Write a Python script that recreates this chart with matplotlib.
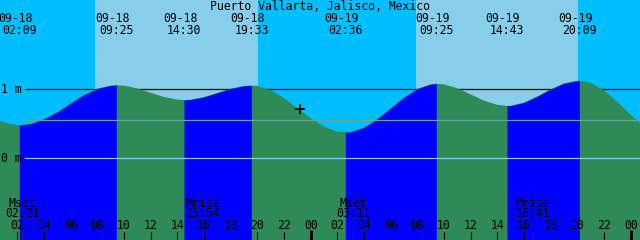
import matplotlib.pyplot as plt
import matplotlib.transforms as mtransforms
import numpy as np

title = 'Puerto Vallarta, Jalisco, Mexico'

# tide height (m), hours counted from 09-18 00:00
hours = [0, 1, 2, 2.15, 3, 4, 5, 6, 7, 8, 9, 9.42, 10, 11, 12, 13, 14, 14.5,
         15, 16, 17, 18, 19, 19.55, 20, 21, 22, 23, 24, 25, 26, 26.6, 27, 28,
         29, 30, 31, 32, 33, 33.42, 34, 35, 36, 37, 38, 38.72, 39, 40, 41, 42,
         43, 44, 44.15, 45, 46, 47, 48, 49]
level = [0.61, 0.52, 0.48, 0.48, 0.50, 0.57, 0.67, 0.80, 0.92, 1.01, 1.055, 1.06,
         1.053, 1.013, 0.95, 0.888, 0.85, 0.845,
         0.85, 0.888, 0.948, 1.01, 1.049, 1.055, 1.048, 0.987, 0.872, 0.727,
         0.579, 0.459, 0.389, 0.377, 0.383, 0.447,
         0.57, 0.727, 0.883, 1.007, 1.073, 1.08, 1.071, 1.015, 0.926, 0.836,
         0.774, 0.76, 0.762, 0.808, 0.897, 1.001,
         1.086, 1.124, 1.125, 1.094, 0.985, 0.82, 0.632, 0.462]

tide_days = ['09-18', '09-18', '09-18', '09-18', '09-19', '09-19', '09-19', '09-19']
tide_times = ['02:09', '09:25', '14:30', '19:33', '02:36', '09:25', '14:43', '20:09']

moon_names = ['Mset', 'Mrise', 'Mset', 'Mrise']
moon_days = ['09-18', '09-18', '09-19', '09-19']
moon_times = ['02:21', '15:54', '03:11', '16:41']

sun_days = ['09-18', '09-19']
sunrise = ['07:50', '07:54']
sunset = ['20:02', '20:02']

now_day, now_time, now_level = '09-18', '23:12', 0.72

ref_levels = [1.0, 0.55, 0.0]
ref_labels = ['1 m', None, '0 m']
ref_colors = ['black', '#5fa89a', '#87ceeb']

night = '#00bfff'
day = '#87ceeb'
flood = '#0000ff'
ebb = '#2e8b57'


def to_h(d, hm):
    return 24 * (int(d[3:]) - 18) + int(hm[:2]) + int(hm[3:]) / 60


def py(y):
    # pixel row -> axes fraction
    return 1 - y / 240


plt.rcParams['font.family'] = 'DejaVu Sans Mono'
fs = 8.3

fig = plt.figure(figsize=(6.4, 2.4), dpi=100)
ax = fig.add_axes([0, 0, 1, 1])
ax.set_xlim(0.7, 48.7)
ax.set_ylim(-1.184, 2.294)
for s in ax.spines.values():
    s.set_visible(False)
ax.set_xticks([])
ax.set_yticks([])
ax.set_facecolor(night)
trans = mtransforms.blended_transform_factory(ax.transData, ax.transAxes)

for d, r, s in zip(sun_days, sunrise, sunset):
    ax.axvspan(to_h(d, r), to_h(d, s), color=day, lw=0, zorder=0)

# reference lines
for lv, c in zip(ref_levels, ref_colors):
    ax.axhline(lv, xmin=25 / 640, xmax=1, color=c, lw=0.9,
               zorder=1 if c == 'black' else 3)
for lv, lab in zip(ref_levels, ref_labels):
    if lab:
        ax.text(0.002, lv, lab, transform=mtransforms.blended_transform_factory(
            ax.transAxes, ax.transData), fontsize=fs, va='center', ha='left', zorder=5)

hrs = np.array(hours)
lev = np.array(level)
ax.fill_between(hrs, -2, lev, color=ebb, lw=0, zorder=2)
ev = [to_h(d, t) for d, t in zip(tide_days, tide_times)]
for i in range(0, len(ev), 2):
    m = (hrs >= ev[i] - 0.01) & (hrs <= ev[i + 1] + 0.01)
    ax.fill_between(hrs[m], -2, lev[m], color=flood, lw=0, zorder=2)

ax.plot(to_h(now_day, now_time), now_level, marker='+', color='black',
        ms=6.5, mew=1.3, zorder=5)

# tide event labels
ax.text(0.5, py(10), title, transform=ax.transAxes, ha='center', va='baseline', fontsize=fs)
for d, t in zip(tide_days, tide_times):
    h = to_h(d, t)
    ax.text(h - 0.3, py(21.7), d, transform=trans, ha='center', va='baseline', fontsize=fs)
    ax.text(h, py(34.3), t, transform=trans, ha='center', va='baseline', fontsize=fs)

# moon events
for n, d, t in zip(moon_names, moon_days, moon_times):
    h = to_h(d, t)
    ax.text(h, py(206.7), n, transform=trans, ha='center', va='baseline', fontsize=fs, zorder=5)
    ax.text(h, py(217.3), t, transform=trans, ha='center', va='baseline', fontsize=fs, zorder=5)
    ax.plot([h, h], [0, 8 / 240], transform=trans, color='#333333', lw=0.6, zorder=4)

# hour ticks
for h in range(2, 49, 2):
    lab = '%02d' % (h % 24)
    ax.text(h, py(229.3), lab, transform=trans, ha='center', va='baseline', fontsize=fs, zorder=5)
    thick = h % 24 == 0
    ax.plot([h, h], [0, (10 if thick else 8.5) / 240], transform=trans, color='black',
            lw=2.0 if thick else 0.8, zorder=4, solid_capstyle='butt')

fig.savefig('out.png', dpi=100)
plt.close(fig)
